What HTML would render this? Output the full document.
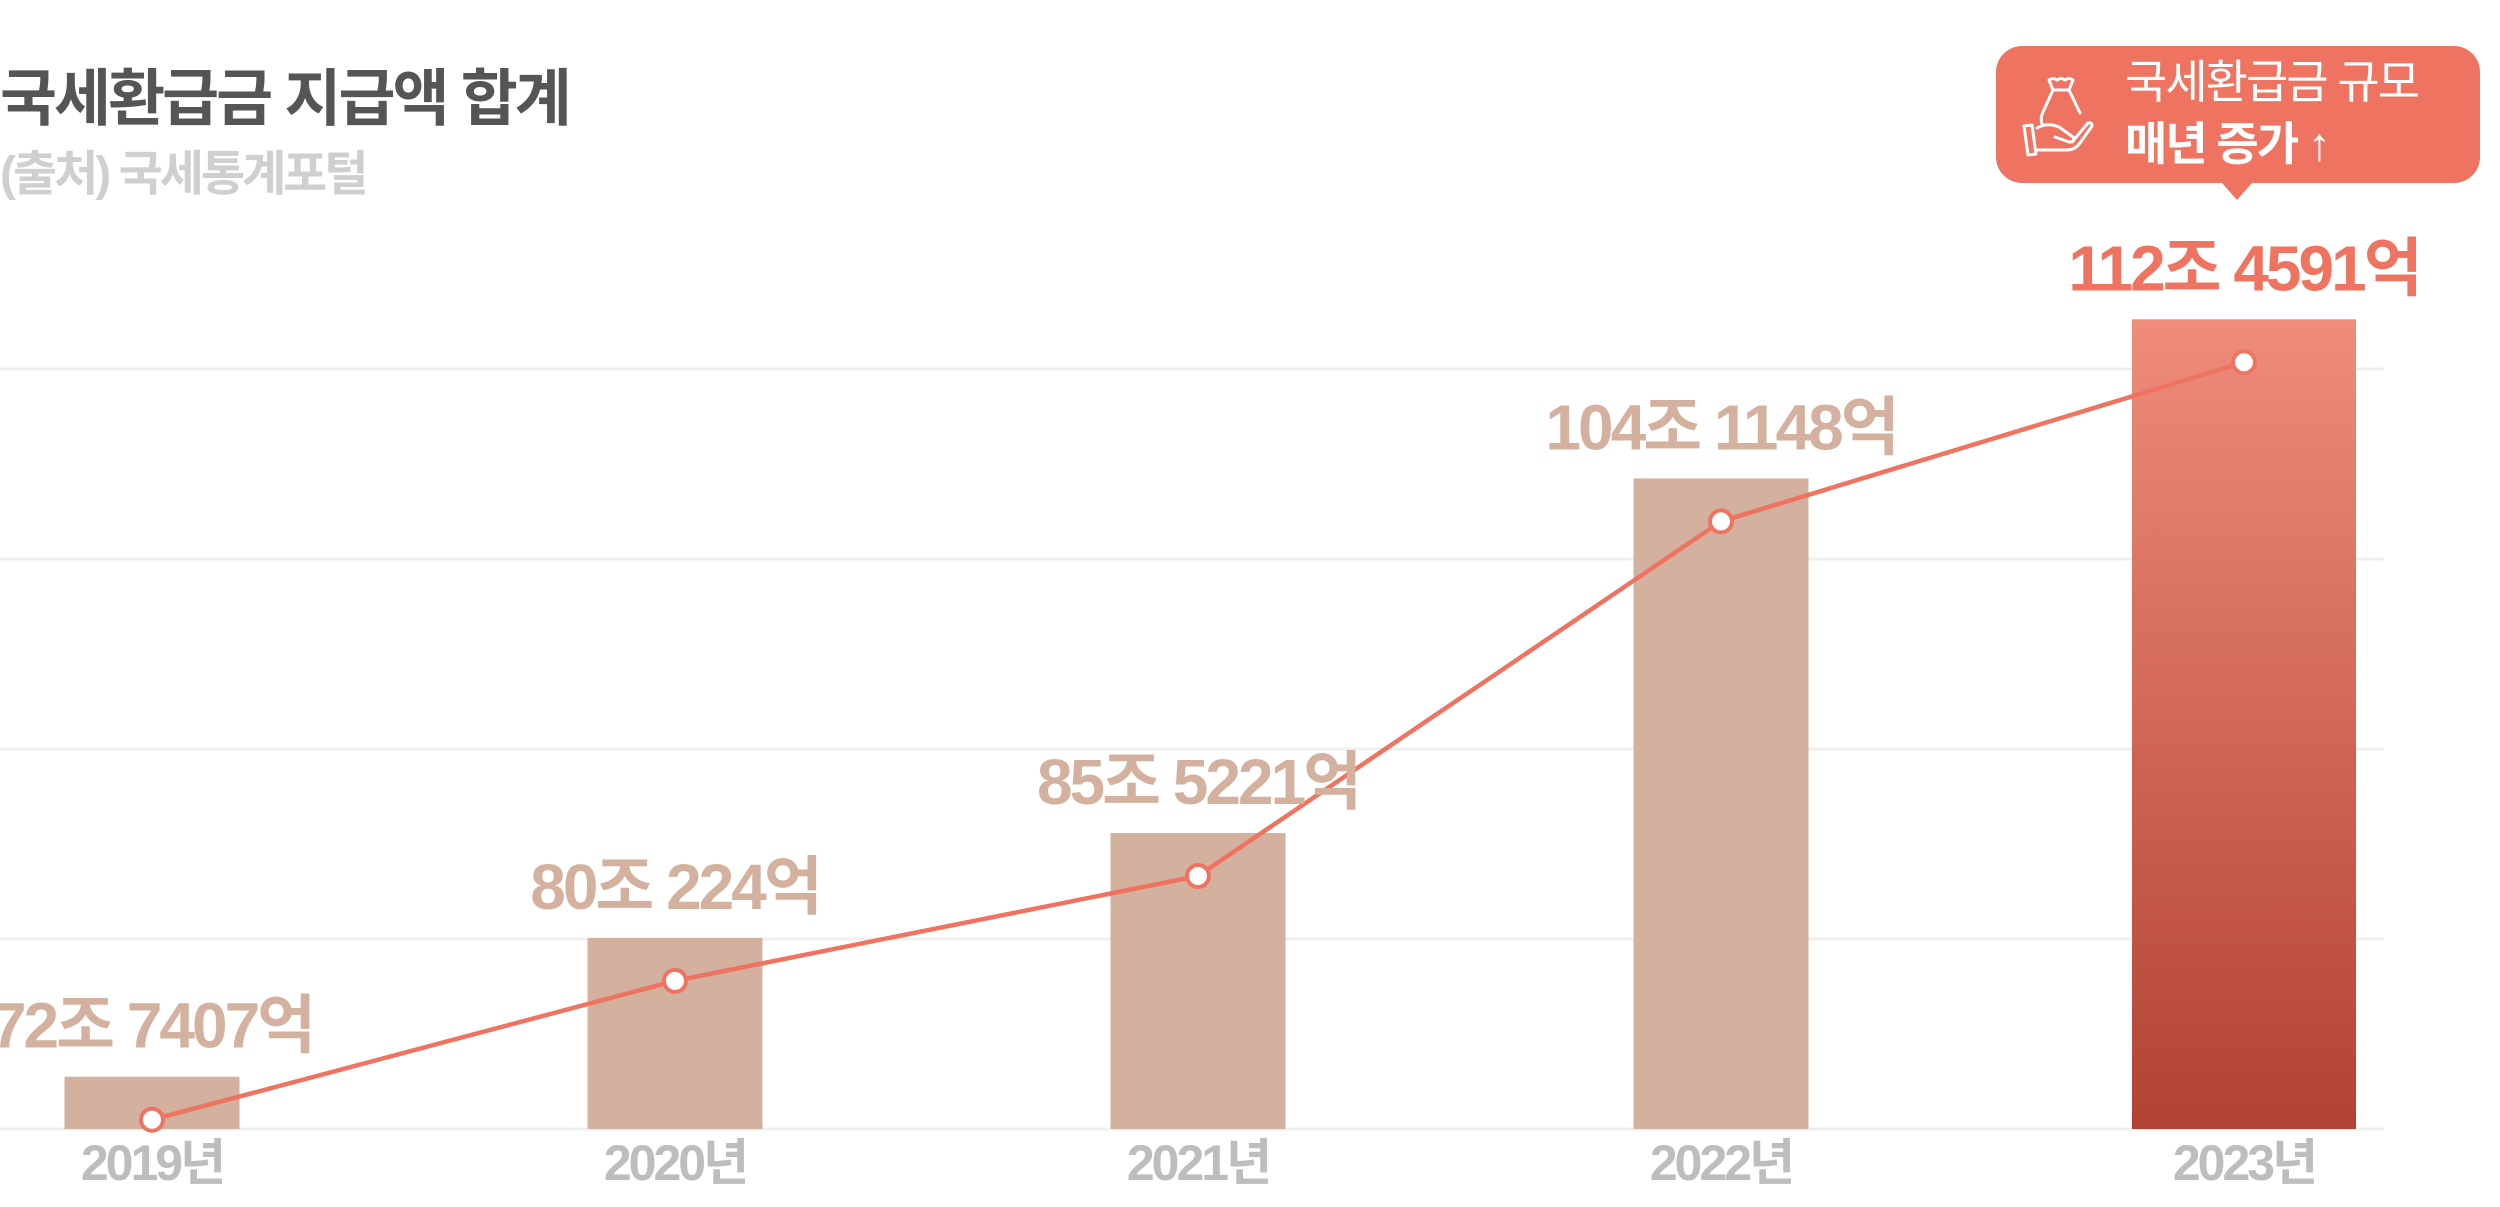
<!DOCTYPE html>
<html><head><meta charset="utf-8">
<style>
html,body{margin:0;padding:0;background:#fff;}
body{width:2500px;height:1202px;overflow:hidden;position:relative;font-family:"Liberation Sans","Noto Sans CJK KR",sans-serif;}
svg text{font-family:"Liberation Sans","Noto Sans CJK KR",sans-serif;}
</style></head>
<body>
<svg id="chart" width="2500" height="1202" viewBox="0 0 2500 1202" xmlns="http://www.w3.org/2000/svg">
<defs>
<linearGradient id="hl" x1="0" y1="0" x2="0" y2="1">
<stop offset="0" stop-color="#ef8c7c"/><stop offset="1" stop-color="#b24232"/>
</linearGradient>
</defs>
<text x="0" y="120" font-size="62" font-weight="bold" fill="#555" letter-spacing="-3">국세환급금 지급액 합계</text>
<text x="0" y="190" font-size="48" font-weight="bold" fill="#cfcfcf" letter-spacing="-3">(출처) 국세통계포털</text>
<g id="grid"></g>
<g id="bars"></g>
<g id="line"></g>
<g id="labels"></g>
<g id="xaxis"></g>
<g>
<rect x="1996" y="46" width="484" height="137" rx="26" fill="#ee7461"/>
<path d="M2222 183 L2237 200 L2252 183 Z" fill="#ee7461"/>
<g fill="none" stroke="#fff" stroke-width="3" stroke-linecap="round" stroke-linejoin="round">
<path d="M2049 80 q4 -3 8 0 q4 -3 8 0 q4 -3 8 0 l-4 10 l-16 0 z"/>
<path d="M2053 90 l-10 22 q-3 6 -1 12 M2069 90 l11 23"/>
<path d="M2024 126 l8 -1 l4 29 l-8 1 z"/>
<path d="M2037 128 q10 -6 22 -1 l14 10 q3 5 -4 5 l-14 -5 M2037 150 l30 0 q8 0 13 -7 l12 -17 q0 -4 -4 -3 l-16 19"/>
</g>
<text x="2125" y="98" font-size="46" fill="#fff" letter-spacing="-2">국세환급금 규모</text>
<text x="2125" y="160" font-size="46" font-weight="bold" fill="#fff" letter-spacing="-2">매년 증가 ↑</text>
</g>
</svg>
<script>
const categories = ["2019년","2020년","2021년","2022년","2023년"];
const values = [72.7407, 80.0224, 85.5221, 104.1148, 112.4591];
const valueLabels = ["72조 7407억","80조 224억","85조 5221억","104조 1148억","112조 4591억"];
const gridValues = [70, 80, 90, 100, 110];

const NS = "http://www.w3.org/2000/svg";
const baseY = 1129, pxPerUnit = 19.07, minV = 70;
function yScale(v){ return baseY - (v - minV) * pxPerUnit; }
function xScale(i){ return 152 + i * 523; }
function barW(i){ return i === categories.length - 1 ? 224 : 175; }
function mk(tag, attrs, parent){ const e = document.createElementNS(NS, tag); for (const k in attrs) e.setAttribute(k, attrs[k]); parent.appendChild(e); return e; }

const grid = document.getElementById('grid');
gridValues.forEach(v => {
  const l = mk('line', {x1:0, x2:2384, y1:yScale(v) - (v-minV)*0 , y2:yScale(v), stroke:'#efefef','stroke-width':3}, grid);
  l.setAttribute('y1', baseY - (v - minV) / 10 * 190);
  l.setAttribute('y2', baseY - (v - minV) / 10 * 190);
  
  
});

const bars = document.getElementById('bars');
const labels = document.getElementById('labels');
const xaxis = document.getElementById('xaxis');
const last = categories.length - 1;
values.forEach((v, i) => {
  const cx = xScale(i), w = barW(i), top = yScale(v);
  const r = mk('rect', {x: cx - w/2, y: top, width: w, height: baseY - top, fill: i === last ? 'url(#hl)' : '#d3b19e'}, bars);
  
  
  const t = mk('text', {x: cx, y: top - 29, 'text-anchor':'middle', 'font-size':64, 'font-weight':'bold', fill: i === last ? '#ee7461' : '#d3b19e', 'letter-spacing':-3}, labels);
  t.textContent = valueLabels[i];
  
  
  const xl = mk('text', {x: cx, y: 1180, 'text-anchor':'middle', 'font-size':50, 'font-weight':'bold', fill:'#bdbdbd', 'letter-spacing':-3}, xaxis);
  xl.textContent = categories[i];
  
  
});

const lineG = document.getElementById('line');
const pts = values.map((v, i) => [xScale(i), yScale(v) + 43]);
const pl = mk('polyline', {points: pts.map(p => p.join(',')).join(' '), fill:'none', stroke:'#ee7461', 'stroke-width':4.5}, lineG);


pts.forEach(p => {
  const c = mk('circle', {cx:p[0], cy:p[1], r:11, fill:'#fff', stroke:'#ee7461', 'stroke-width':4}, lineG);
  
  
});
</script>
</body></html>
